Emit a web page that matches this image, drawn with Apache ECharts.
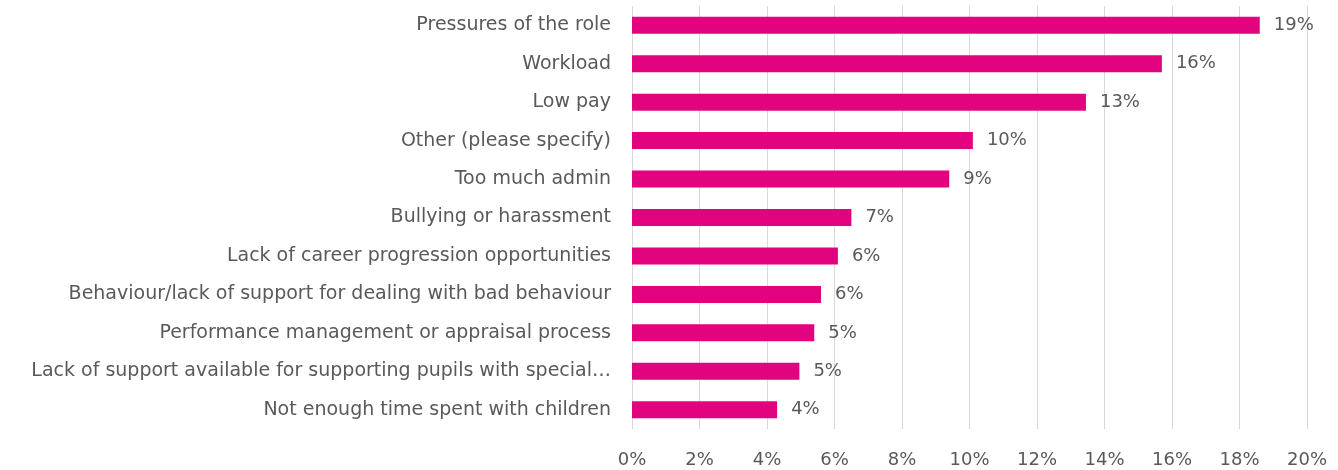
<!DOCTYPE html>
<html>
<head>
<meta charset="utf-8">
<script src="https://cdn.jsdelivr.net/npm/echarts@6/dist/echarts.min.js"></script>
<style>
html,body{margin:0;padding:0;background:#fff;}
#chart{width:1338px;height:470px;}
</style>
</head>
<body>
<div id="chart"></div>
<script>
// Categories listed top to bottom
const categories = [
  "Pressures of the role",
  "Workload",
  "Low pay",
  "Other (please specify)",
  "Too much admin",
  "Bullying or harassment",
  "Lack of career progression opportunities",
  "Behaviour/lack of support for dealing with bad behaviour",
  "Performance management or appraisal process",
  "Lack of support available for supporting pupils with special\u2026",
  "Not enough time spent with children"
];
// Percent values, top to bottom
const values = [18.6, 15.7, 13.45, 10.1, 9.4, 6.5, 6.1, 5.6, 5.4, 4.96, 4.3];
const xTicks = { min: 0, max: 20, interval: 2 };

const chart = echarts.init(document.getElementById('chart'));
const font = '"DejaVu Sans", sans-serif';
const grey = '#595959';
chart.setOption({
  animation: false,
  grid: { left: 632, right: 31, top: 6, bottom: 41, containLabel: false },
  xAxis: {
    type: 'value',
    min: xTicks.min, max: xTicks.max, interval: xTicks.interval,
    axisLine: { show: false },
    axisTick: { show: false },
    splitLine: { show: true, lineStyle: { color: '#d9d9d9', width: 1 } },
    axisLabel: { formatter: v => v + '%', color: grey, fontFamily: font, fontSize: 18, margin: 22 }
  },
  yAxis: {
    type: 'category',
    inverse: true,
    data: categories,
    axisLine: { show: false },
    axisTick: { show: false },
    axisLabel: { color: grey, fontFamily: font, fontSize: 19, margin: 21 }
  },
  series: [{
    type: 'bar',
    data: values,
    barWidth: 17,
    itemStyle: { color: '#E2047F' },
    label: {
      show: true,
      position: 'right',
      distance: 14,
      color: grey,
      fontFamily: font,
      fontSize: 18,
      formatter: p => Math.round(p.value) + '%'
    }
  }]
});
</script>
</body>
</html>
